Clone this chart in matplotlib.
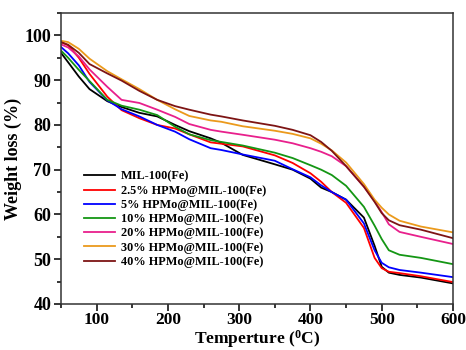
import matplotlib
matplotlib.use("Agg")
import matplotlib.pyplot as plt
from matplotlib.ticker import MultipleLocator

plt.rcParams['font.family'] = ['Liberation Serif', 'DejaVu Serif']
plt.rcParams['font.weight'] = 'bold'
plt.rcParams['mathtext.fontset'] = 'custom'
plt.rcParams['mathtext.rm'] = 'Liberation Serif:bold'
plt.rcParams['mathtext.it'] = 'Liberation Serif:bold'
plt.rcParams['mathtext.bf'] = 'Liberation Serif:bold'

# temperature grid (deg C)
temp = [50, 60, 75, 90, 115, 135, 160, 185, 210, 230, 260, 275, 305, 350,
        375, 400, 415, 430, 450, 475, 490, 500, 510, 525, 555, 600]

mil = [96.1, 94.0, 90.8, 88.0, 85.3, 84.0, 82.7, 81.9, 80.0, 78.6, 77.0, 76.0,
       73.3, 71.2, 70.0, 68.0, 66.0, 65.0, 63.3, 59.3, 53.0, 48.3, 47.0, 46.5,
       45.9, 44.6]
hp2_5 = [98.5, 97.8, 95.0, 91.4, 86.3, 83.3, 81.5, 80.0, 79.2, 77.9, 76.1, 75.8,
         75.2, 73.2, 71.5, 69.2, 67.3, 65.0, 62.6, 57.0, 50.3, 48.0, 47.2, 46.9,
         46.2, 44.9]
hp5 = [97.4, 96.0, 93.3, 89.6, 85.5, 83.5, 81.9, 80.0, 78.5, 76.8, 74.8, 74.4,
       73.4, 72.0, 70.1, 68.3, 66.5, 65.0, 63.3, 58.0, 52.0, 49.2, 48.2, 47.6,
       47.0, 46.0]
hp10 = [96.6, 95.0, 92.3, 89.8, 85.6, 84.3, 83.4, 82.2, 79.6, 77.9, 76.6, 76.2,
        75.4, 73.8, 72.6, 71.0, 70.0, 68.8, 66.4, 61.7, 57.5, 54.5, 52.0, 51.0,
        50.3, 48.9]
hp20 = [98.0, 97.3, 95.3, 92.4, 88.5, 85.6, 84.9, 83.4, 81.8, 80.2, 78.9, 78.5,
        77.8, 76.7, 75.9, 74.8, 74.0, 73.0, 70.8, 66.2, 63.0, 60.5, 57.8, 56.1,
        55.0, 53.4]
hp30 = [98.8, 98.5, 97.0, 94.8, 92.0, 90.2, 88.0, 85.6, 83.5, 82.0, 81.0, 80.7,
        79.7, 78.7, 78.0, 77.0, 75.8, 74.3, 71.6, 66.8, 63.3, 61.5, 60.0, 58.6,
        57.3, 56.0]
hp40 = [98.5, 97.9, 96.1, 93.6, 91.5, 89.9, 87.6, 85.6, 84.2, 83.4, 82.3, 81.9,
        81.0, 79.8, 78.9, 77.7, 76.2, 74.2, 70.8, 66.2, 62.8, 60.3, 58.7, 57.6,
        56.6, 54.7]

labels = ["MIL-100(Fe)", "2.5% HPMo@MIL-100(Fe)", "5% HPMo@MIL-100(Fe)",
          "10% HPMo@MIL-100(Fe)", "20% HPMo@MIL-100(Fe)",
          "30% HPMo@MIL-100(Fe)", "40% HPMo@MIL-100(Fe)"]
series = [mil, hp2_5, hp5, hp10, hp20, hp30, hp40]
colors = ['#000000', '#ff0000', '#0000ff', '#149614', '#e8208c', '#eb9a1c',
          '#7d1414']

fig = plt.figure(figsize=(4.66, 3.5), dpi=100)
ax = fig.add_axes([61 / 466, 1 - 304 / 350, 392 / 466, 291 / 350])

for s, lab, c in zip(series, labels, colors):
    ax.plot(temp, s, color=c, lw=1.3, label=lab)

ax.set_xlim(50, 600)
ax.set_ylim(40, 105)
ax.xaxis.set_major_locator(MultipleLocator(100))
ax.xaxis.set_minor_locator(MultipleLocator(50))
ax.yaxis.set_major_locator(MultipleLocator(10))
ax.yaxis.set_minor_locator(MultipleLocator(5))
ax.tick_params(which='both', direction='out', top=False, right=False,
               labelsize=13, width=1.1)
ax.tick_params(which='major', length=5, pad=2)
ax.tick_params(which='minor', length=3)
ax.tick_params(axis='x', which='major', pad=1, labelsize=12.5)
for sp in ax.spines.values():
    sp.set_linewidth(1.1)
    sp.set_color('#333333')

ax.set_xlabel(r"Temperture ($^{0}$C)", fontsize=12.5, fontweight='bold',
              labelpad=0)
ax.set_ylabel("Weight loss (%)", fontsize=13, fontweight='bold', labelpad=2)

leg = ax.legend(loc='upper left', bbox_to_anchor=(0.045, 0.475), frameon=False,
                fontsize=8.8, handlelength=2.6, handletextpad=0.45,
                labelspacing=0.18, borderaxespad=0)
for t in leg.get_texts():
    t.set_fontweight('bold')

fig.savefig("out.png", dpi=100)
